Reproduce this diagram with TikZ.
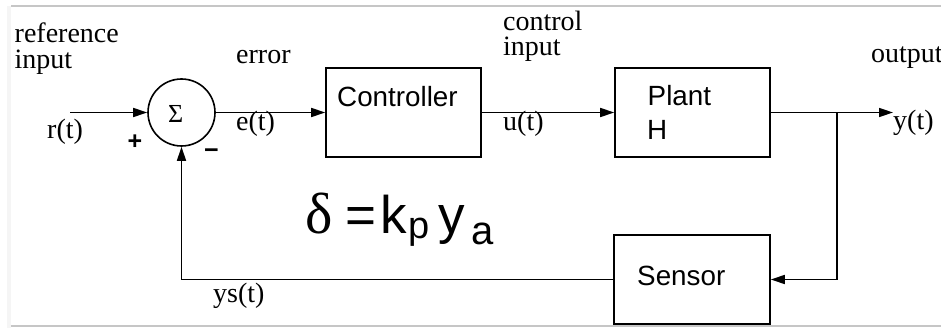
\documentclass[tikz,border=0pt]{standalone}
\usepackage{fontspec}
\setmainfont{Liberation Serif}
\setsansfont{Liberation Sans}
\newfontfamily\deltafont{Liberation Serif}
\usetikzlibrary{arrows.meta}
\begin{document}
\begin{tikzpicture}[x=1pt,y=-1pt,
  wire/.style={line width=1.6pt},
  sig/.style={wire,-{Triangle[length=14pt,width=9pt]}},
  blk/.style={draw,line width=1.6pt,minimum width=155pt,minimum height=89pt,inner sep=0},
  lbl/.style={inner sep=0,anchor=base west,font=\fontsize{28}{30}\selectfont},
  two/.style={inner sep=0,anchor=north west,align=left},
  blbl/.style={inner sep=0,anchor=base west,font=\sffamily\fontsize{27.8}{29}\selectfont},
  sgn/.style={inner sep=0,font=\sffamily\bfseries\fontsize{25}{25}\selectfont}]
\useasboundingbox (0,0) rectangle (941,328);
\fill[gray!8] (7,6) rectangle (11,328);
\draw[gray!45,line width=2pt] (11,6.5) -- (941,6.5);
\draw[gray!45,line width=2pt] (11,326) -- (941,326);

% blocks
\node[draw,circle,line width=1.6pt,minimum size=67pt,inner sep=0] (sum) at (181.5,112.5) {};
\node[lbl,font=\fontsize{26}{28}\selectfont] (sigma) at (168,123) {Σ};
\node[blk] (ctrl) at (403.5,112.5) {};
\node[blk] (plant) at (692.5,112.5) {};
\node[blk,minimum width=156pt] (sensor) at (692,279.5) {};

% block texts
\node[blbl] (tctrl) at (337,107) {Controller};
\node[blbl] (tplant) at (647.5,106) {Plant};
\node[blbl] (th) at (647,140) {H};
\node[blbl] (tsensor) at (637,285) {Sensor};

% labels
\node[two,font=\fontsize{28}{26}\selectfont] (tref) at (14.5,23) {reference\\input};
\node[lbl] (terr) at (236,64) {error};
\node[two,font=\fontsize{28}{25}\selectfont] (tcin) at (503,11) {control\\input};
\node[lbl] (tout) at (871,63) {output};
\node[lbl] (tr) at (47,139) {r(t)};
\node[lbl] (te) at (236,131) {e(t)};
\node[lbl] (tu) at (503,131) {u(t)};
\node[lbl] (ty) at (893,130) {y(t)};
\node[lbl] (tys) at (213,302) {ys(t)};
\node[sgn] (plus) at (135,142.5) {+};
\node[sgn] (minus) at (211.5,154) {−};

% formula
\node[inner sep=0,anchor=base west,font=\sffamily\fontsize{53}{53}\selectfont] (formula) at (300,234)
 {\rlap{\hspace{5pt}{\deltafont\fontsize{58}{58}\selectfont δ}}%
  \rlap{\hspace{45pt}=}%
  \rlap{\hspace{79.5pt}k}%
  \rlap{\hspace{107.5pt}\raisebox{-5pt}{\fontsize{38}{38}\selectfont p}}%
  \rlap{\hspace{137.5pt}y}%
  \rlap{\hspace{170.5pt}\raisebox{-11pt}{\fontsize{40}{40}\selectfont a}}%
  \hspace{197pt}};

% connectors
\coordinate (rin) at (70,112.5);
\coordinate (yout) at (893,112.5);
\coordinate (tap) at (837,112.5);
\draw[sig] (rin) -- (sum.west);
\draw[sig] (sum.east) -- (ctrl.west);
\draw[sig] (ctrl.east) -- (plant.west);
\draw[sig] (plant.east) -- (yout);
\draw[sig] (tap) |- (sensor.east);
\draw[sig] (sensor.west) -| (sum.south);
\end{tikzpicture}
\end{document}
